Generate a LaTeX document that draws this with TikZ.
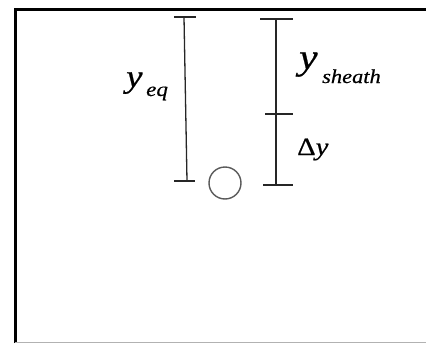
\documentclass[tikz,border=0pt]{standalone}
\usepackage{fontspec}
\setmainfont{Liberation Serif}
\newfontfamily\labfont[FakeStretch=1.15,FakeBold=0.6]{Liberation Serif}
\begin{document}
\begin{tikzpicture}[x=1pt,y=-1pt,
  bar/.style={draw=black!85,line width=1.3pt},
  frame/.style={draw=black,line width=3pt},
  lab/.style={inner sep=0pt,anchor=base west,font=\labfont},
  ball/.style={draw=black!65,line width=1.4pt,circle,minimum size=32pt,inner sep=0pt}]
\useasboundingbox (0,0) rectangle (426,343);
% frame
\draw[frame] (15,343) -- (15,9) -- (426,9);
\draw[gray!60,line width=0.8pt] (15,342.5) -- (426,342.5);
% left bar
\coordinate (lt) at (184,17);
\coordinate (lb) at (187,181);
\draw[bar] (lt) -- (lb);
\draw[bar] (174,17) -- (196,17);
\draw[bar] (174,181) -- (195,181);
% right bar
\coordinate (rt) at (276,19);
\coordinate (rm) at (276,114);
\coordinate (rb) at (276,185);
\draw[bar] (rt) -- (rm) -- (rb);
\draw[bar] (260,19) -- (293,19);
\draw[bar] (265,114) -- (293,114);
\draw[bar] (263,185) -- (293,185);
% ball
\node[ball] (ball) at (225,183) {};
% labels
\node[lab] (yeq) at (126,87) {\fontsize{32}{34}\selectfont\itshape y};
\node[lab] (eq) at (146,96) {\fontsize{20}{22}\selectfont\itshape eq};
\node[lab] (ysh) at (299,69) {\fontsize{36}{38}\selectfont\itshape y};
\node[lab] (sh) at (322,83) {\fontsize{19.5}{21}\selectfont\itshape sheath};
\node[lab] (dy) at (297,155) {\fontsize{25}{26}\selectfont Δ\itshape y};
\end{tikzpicture}
\end{document}
